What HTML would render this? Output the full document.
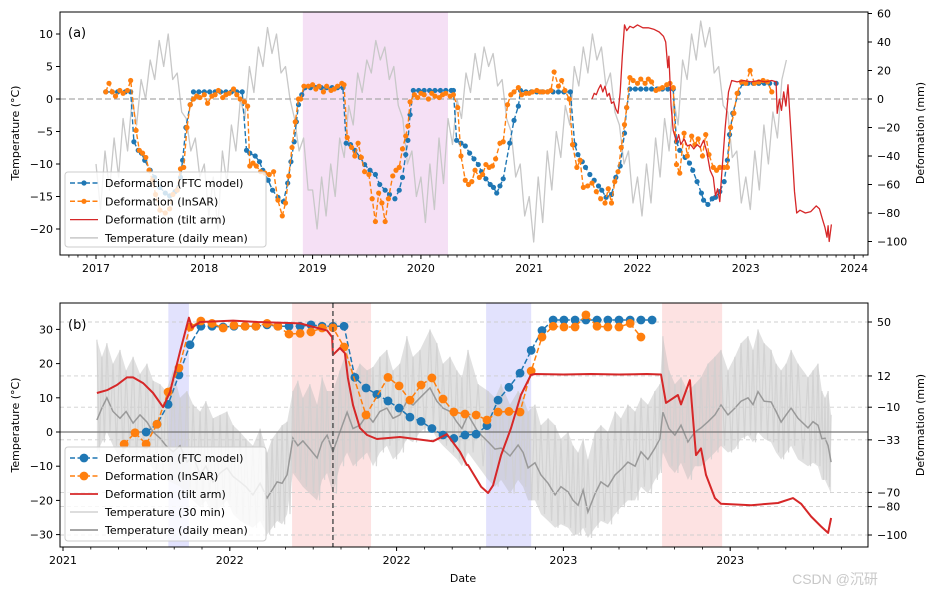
<!DOCTYPE html>
<html><head><meta charset="utf-8">
<style>
html,body{margin:0;padding:0;background:#fff;}
svg{display:block;font-family:"DejaVu Sans","Liberation Sans",sans-serif;}
</style></head>
<body>
<svg id="fig" width="936" height="594" viewBox="0 0 936 594" xmlns="http://www.w3.org/2000/svg">
<defs>
<clipPath id="clipA"><rect x="60" y="12" width="808" height="243"/></clipPath>
<clipPath id="clipB"><rect x="60" y="303" width="808" height="244"/></clipPath>
</defs>
<g id="panelA"></g>
<g id="panelB"></g>
<text x="463" y="582" font-size="11" text-anchor="middle">Date</text>
<text x="835" y="584" font-size="14" fill="#c8c8c8" text-anchor="middle" font-family="Liberation Sans, Noto Sans CJK SC, sans-serif">CSDN @沉研</text>
</svg>
<script>
// ---------- Panel (a) data ----------
const aTempStart = 2017.0; // semi-monthly daily-mean temperature samples
const aTempVals = [-10,-17,-8,-14,-6,-12,-3,-8,0,-4,3,0,6,3,9,5,10,3,4,-2,-3,-8,-6,-12,
 -10,-18,-12,-20,-8,-13,-4,-8,0,-3,5,1,8,5,11,7,10,4,5,0,-3,-8,-6,-14,
 -14,-20,-12,-18,-10,-15,-6,-9,-1,-4,4,1,6,4,9,6,8,3,5,-1,-3,-10,-8,-15,
 -12,-19,-10,-17,-6,-13,-3,-7,0,-3,4,1,7,3,8,5,7,2,3,-3,-5,-12,-10,-18,
 -15,-22,-12,-19,-8,-14,-5,-9,-1,-4,5,2,8,4,10,6,8,2,4,-2,-4,-10,-8,-16,
 -12,-18,-10,-16,-6,-12,-3,-8,0,-4,6,3,10,6,12,8,11,4,5,-1,-2,-9,-8,-16,
 -12,-17,-8,-14,-4,-10,-2,-6,3,6];
const ftcA_t = [2017.09,2017.15,2017.20,2017.27,2017.32,2017.35,2017.39,2017.42,2017.45,2017.50,2017.54,2017.59,2017.64,2017.68,2017.73,2017.78,2017.80,2017.83,2017.87,2017.90,
 2017.95,2018.00,2018.05,2018.10,2018.15,2018.20,2018.25,2018.30,2018.35,
 2018.39,2018.42,2018.47,2018.51,2018.54,2018.59,2018.63,2018.68,2018.73,2018.77,2018.80,2018.83,2018.85,2018.87,2018.90,2018.93,
 2018.98,2019.03,2019.08,2019.13,2019.18,2019.23,2019.28,
 2019.31,2019.35,2019.39,2019.44,2019.48,2019.53,2019.58,2019.62,2019.67,2019.71,2019.76,2019.80,2019.83,2019.86,2019.88,2019.90,2019.93,
 2019.98,2020.03,2020.08,2020.13,2020.18,2020.23,2020.28,2020.30,
 2020.33,2020.37,2020.41,2020.45,2020.49,2020.53,2020.56,2020.60,2020.64,2020.67,2020.70,2020.73,2020.76,2020.82,2020.86,2020.90,2020.92,
 2020.97,2021.02,2021.07,2021.12,2021.17,2021.22,2021.27,2021.32,2021.38,
 2021.42,2021.45,2021.49,2021.52,2021.56,2021.60,2021.64,2021.67,2021.71,2021.76,2021.80,2021.84,2021.88,2021.90,2021.93,
 2021.98,2022.03,2022.08,2022.13,2022.18,2022.23,2022.28,2022.33,
 2022.36,2022.39,2022.44,2022.48,2022.51,2022.55,2022.59,2022.61,2022.65,2022.69,2022.72,2022.76,2022.80,2022.83,2022.85,2022.88,2022.93,
 2022.97,2023.02,2023.07,2023.12,2023.17,2023.22,2023.28];
const ftcA_v = [5,5,5,5,5,-30,-36,-38,-43,-50,-55,-62,-66,-68,-65,-55,-43,-20,-4,5,
 5,5,5,5,5,5,5,5,5,
 -36,-38,-40,-44,-50,-57,-64,-69,-72,-59,-44,-30,-16,-4,3,8,
 8,8,8,8,8,8,8,
 -31,-32,-36,-41,-46,-50,-53,-60,-64,-67,-70,-64,-55,-39,-29,-11,6,
 6,6,6,6,6,6,6,6,
 -29,-31,-33,-38,-42,-46,-51,-56,-60,-62,-66,-61,-56,-31,-15,-5,6,
 5,5,5,5,5,5,5,5,5,
 -32,-39,-44,-48,-53,-57,-61,-64,-69,-67,-55,-47,-24,-6,7,
 7,7,7,7,7,7,7,7,
 -30,-36,-41,-45,-50,-58,-66,-71,-74,-70,-69,-65,-58,-43,-25,-10,4,
 11,11,11,11,11,11,11];
const sarA_t = [2017.09,2017.12,2017.15,2017.18,2017.22,2017.25,2017.29,2017.32,2017.37,2017.40,2017.43,2017.46,2017.49,2017.52,2017.55,2017.59,2017.64,2017.68,2017.71,2017.75,2017.78,2017.81,2017.84,2017.87,2017.90,2017.93,
 2017.96,2018.00,2018.03,2018.07,2018.10,2018.13,2018.17,2018.20,2018.23,2018.27,2018.30,2018.33,2018.37,2018.40,
 2018.42,2018.45,2018.48,2018.52,2018.56,2018.60,2018.64,2018.68,2018.72,2018.75,2018.78,2018.81,2018.84,2018.87,2018.89,2018.92,
 2018.96,2019.00,2019.03,2019.06,2019.10,2019.13,2019.17,2019.20,2019.23,2019.27,2019.29,
 2019.32,2019.36,2019.39,2019.42,2019.45,2019.48,2019.52,2019.55,2019.58,2019.61,2019.64,2019.67,2019.70,2019.74,2019.77,2019.80,2019.83,2019.86,2019.88,2019.90,
 2019.94,2019.97,2020.00,2020.03,2020.07,2020.10,2020.13,2020.17,2020.20,2020.23,2020.27,2020.30,
 2020.34,2020.37,2020.41,2020.44,2020.47,2020.50,2020.54,2020.57,2020.60,2020.63,2020.66,2020.69,2020.73,2020.76,2020.80,2020.83,2020.86,2020.90,2020.93,2020.97,
 2021.00,2021.03,2021.07,2021.10,2021.13,2021.17,2021.20,2021.23,2021.27,2021.30,2021.33,2021.37,
 2021.40,2021.44,2021.47,2021.50,2021.54,2021.58,2021.62,2021.66,2021.70,2021.73,2021.76,2021.79,2021.82,2021.85,2021.88,2021.90,2021.93,
 2021.96,2022.00,2022.03,2022.07,2022.10,2022.13,2022.17,2022.20,2022.23,2022.27,2022.30,2022.33,
 2022.36,2022.39,2022.43,2022.46,2022.50,2022.53,2022.56,2022.60,2022.63,2022.66,2022.70,2022.73,2022.76,2022.80,2022.83,2022.86,2022.89,2022.92,
 2022.96,2023.00,2023.04,2023.08,2023.12,2023.16,2023.20,2023.24];
const sarA_v = [5,11,5,2,6,4,6,13,-22,-36,-38,-41,-50,-57,-67,-78,-80,-77,-67,-64,-49,-48,-20,-4,0,2,
 1,3,-3,2,3,6,1,3,4,7,3,0,-2,-5,
 -47,-45,-47,-51,-52,-53,-51,-71,-82,-73,-54,-34,-16,0,0,9,
 9,10,7,9,5,9,6,7,9,11,10,
 -27,-34,-40,-31,-41,-51,-53,-70,-86,-66,-73,-86,-70,-54,-50,-48,-35,-26,-19,-2,
 3,1,4,3,0,4,2,1,3,4,2,3,
 -6,-40,-57,-60,-58,-50,-55,-53,-46,-48,-47,-42,-31,-30,-4,3,5,8,3,4,
 4,5,6,5,5,5,6,19,9,13,6,0,
 -32,-48,-43,-62,-61,-59,-65,-70,-73,-63,-73,-58,-51,-34,-18,-6,15,
 13,11,14,11,14,12,6,7,8,10,11,8,
 -46,-52,-24,-40,-26,-32,-28,-40,-25,-39,-48,-50,-48,-48,-48,-20,-10,4,
 12,11,20,11,12,13,12,5];
const tiltA_t = [2021.58,2021.60,2021.62,2021.64,2021.66,2021.68,2021.70,2021.72,2021.74,2021.76,2021.78,2021.80,2021.82,2021.84,2021.86,2021.88,2021.90,2021.93,2021.96,2022.00,2022.05,2022.10,2022.15,2022.20,2022.24,2022.26,2022.28,2022.29,2022.31,2022.33,2022.36,2022.38,2022.40,2022.43,2022.46,2022.49,2022.52,2022.55,2022.58,2022.61,2022.64,2022.67,2022.70,2022.72,2022.74,2022.76,2022.78,2022.81,2022.84,2022.87,2022.92,2022.98,2023.05,2023.12,2023.18,2023.24,2023.28,2023.29,2023.31,2023.33,2023.35,2023.37,2023.39,2023.41,2023.43,2023.45,2023.47,2023.50,2023.55,2023.60,2023.65,2023.68,2023.71,2023.73,2023.75,2023.76,2023.77,2023.79];
const tiltA_v = [0,4,3,7,10,5,9,2,4,-3,-2,-7,-10,5,30,52,48,51,50,52,50,50,49,47,44,40,22,30,-5,-22,-30,-25,-32,-28,-33,-32,-35,-32,-34,-29,-37,-50,-55,-68,-63,-72,-50,-20,5,13,12,13,12,13,12,13,12,-10,0,-8,5,-5,10,-15,-40,-65,-80,-78,-80,-79,-75,-77,-85,-90,-97,-89,-100,-88];
const aShade = [2018.91, 2020.25];
const aYears = [2017,2018,2019,2020,2021,2022,2023,2024];
const aTempTicks = [10,5,0,-5,-10,-15,-20];
const aDefTicks = [60,40,20,0,-20,-40,-60,-80,-100];

// ---------- Panel (b) data (time in months since first tick) ----------
const bTempT = [1.22,1.40,1.58,1.80,2.05,2.27,2.52,2.77,3.02,3.24,3.49,3.71,3.96,4.21,4.46,4.68,4.93,5.14,5.40,5.65,5.90,6.12,6.37,6.58,6.83,7.09,7.34,7.52,7.70,7.88,8.06,8.27,8.45,8.63,8.88,9.14,9.32,9.50,9.71,9.96,10.22,10.43,10.68,10.94,11.15,11.40,11.65,11.87,12.12,12.37,12.59,12.84,13.20,13.45,13.67,13.92,14.17,14.35,14.57,14.93,15.29,15.54,15.76,16.08,16.37,16.55,16.73,16.98,17.19,17.45,17.70,17.91,18.17,18.35,18.53,18.71,18.88,19.14,19.35,19.60,19.86,20.07,20.32,20.58,20.79,21.04,21.29,21.47,21.58,21.80,22.01,22.23,22.48,22.73,22.95,23.20,23.45,23.67,23.92,24.17,24.39,24.64,24.82,25.00,25.22,25.47,25.65,25.83,26.01,26.19,26.44,26.80,26.98,27.16,27.30,27.41,27.52,27.63];
const bTempDaily = [3.5,7,10,6,4,6,2.6,5,2.9,0,-1.8,-4,-5.8,-4,-8.8,-7,-12.5,-10,-14.6,-12,-10.5,-13,-14.6,-16,-18.4,-15,-19.3,-17,-14.6,-15,-12.5,-1.8,-4,-2.6,-5,-7.6,-3,-0.9,-5.8,0,5.8,1,2,5,2.9,6,7,4,5,9,7.9,10,12.9,9,7,6,2.9,1,5,0,-2.9,-5,-4.7,-7,-3.8,-6,-10.5,-9,-12.5,-15,-18.4,-16,-17.5,-20,-21.4,-17,-23.4,-18,-14.6,-16,-12.5,-11,-8.8,-10,-5.8,-8,-4.7,-2,5.8,1,-0.9,2,-2.9,0,1.2,3,5,7.9,5,7,9,10,8,11.8,9,8.8,6,2.9,5,7,4,1.2,3,2,-2,-1.8,-4,-8.8];
const bTemp30Hi = [27,22,26,20,24,18,22,17,20,15,14,12,18,10,12,8,6,9,4,5,6,2,0,-2,-4,1,-6,-2,0,2,3,12,15,10,14,8,16,12,12,18,24,16,20,18,19,22,24,18,20,28,22,24,30,26,20,22,18,16,24,14,12,10,14,8,12,10,6,8,2,4,2,-2,0,-4,-6,-2,-8,0,2,0,6,4,8,6,10,8,12,14,28,18,14,16,12,14,16,20,22,24,18,22,26,28,24,30,26,24,20,18,20,24,20,16,18,20,12,10,12,5];
const bTemp30Lo = [-6,-3,0,-4,-8,-5,-9,-6,-8,-11,-12,-14,-15,-16,-18,-20,-22,-20,-25,-22,-20,-24,-26,-27,-28,-26,-30,-28,-26,-27,-24,-12,-14,-16,-18,-20,-14,-12,-18,-10,-6,-10,-8,-6,-10,-6,-4,-8,-6,-2,-3,0,2,-2,-4,-6,-8,-10,-6,-10,-14,-16,-14,-18,-14,-16,-20,-20,-24,-26,-28,-27,-28,-30,-30,-28,-31,-28,-26,-27,-24,-22,-20,-20,-16,-18,-14,-12,-6,-10,-12,-9,-14,-10,-10,-8,-6,-4,-6,-5,-2,-1,-3,0,-2,-3,-6,-8,-6,-4,-8,-10,-9,-10,-14,-14,-16,-18];
const ftcB_t = [2.99,3.38,3.78,4.17,4.57,4.96,5.36,5.76,6.15,6.55,6.94,7.34,7.73,8.13,8.53,8.92,9.32,9.71,10.11,10.50,10.90,11.29,11.69,12.09,12.48,12.88,13.27,13.67,14.06,14.46,14.86,15.25,15.65,16.04,16.44,16.84,17.23,17.63,18.02,18.42,18.81,19.21,19.60,20.00,20.40,20.79,21.19];
const ftcB_v = [-27.5,-22,-8,12.7,34,47,47,46.5,47,47,47,48,47,47,47,48,47,47,47,11,3.5,-1,-5.6,-10.6,-17,-20,-25,-29.6,-32,-29.6,-29,-23,-5,4,14,30,44,51.4,51.4,51.4,51.4,51.4,51.4,51.4,51.4,51.4,51.4];
const sarB_t = [2.20,2.59,2.99,3.38,3.78,4.17,4.57,4.96,5.36,5.76,6.15,6.55,6.94,7.34,7.73,8.13,8.53,8.92,9.32,9.71,10.11,10.90,11.69,12.09,12.48,12.88,13.27,13.67,14.06,14.46,14.86,15.25,15.65,16.04,16.44,16.84,17.23,17.63,18.02,18.42,18.81,19.21,19.60,20.00,20.40,20.79];
const sarB_v = [-36,-28,-36,-22,0.7,17.6,46.5,50.7,49,45.8,47.6,47,47,49,47,41.5,42,43,45.8,46,32.4,-15.5,11,5,-5,5.6,10.6,-4.2,-13.4,-14.8,-15.5,-19,-13.4,-13,-13.4,15.5,39.4,47,46.5,46.5,55,47,46.5,46.5,49,39.4];
const tiltB_t = [1.22,1.58,1.94,2.30,2.52,2.88,3.24,3.60,3.85,4.21,4.53,4.64,4.93,6.12,7.00,8.53,9.50,9.68,9.71,9.96,10.14,10.25,10.43,10.68,10.94,11.29,12.12,13.31,13.81,14.28,14.53,14.57,15.04,15.29,15.47,15.76,16.12,16.47,16.83,16.98,18.0,19.0,20.0,21.0,21.51,21.69,22.12,22.23,22.55,22.77,22.95,23.13,23.45,23.67,24.75,25.72,26.26,26.55,26.91,27.27,27.52,27.63];
const tiltB_v = [0,2,5.6,11,11,7,0,-10,0.7,29,53,46,50,51,50,49,44,39.4,26.8,31.7,28,10.6,-8.5,-24.6,-29.6,-32.4,-31,-34,-29,-41.5,-50.7,-50.7,-66,-70.4,-65,-43.7,-24.6,-1.4,12.7,13.4,13,13.4,13,13.4,13,-7,-1.4,-8,9,-43.7,-39,-57.7,-74,-78,-79,-77.5,-74,-78,-87,-94,-98.5,-88];
const bBlueShades = [[3.79,4.53],[15.22,16.84]];
const bRedShades = [[8.24,11.08],[21.55,23.71]];
const bEventMonth = 9.71;
const bTickMonths = [0,6,12,18,24];
const bTickLabels = ["2021","2022","2022","2023","2023"];
const bTempTicks = [30,20,10,0,-10,-20,-30];
const bDefTicks = [50,12,-10,-33,-70,-80,-100];

// ---------- helpers ----------
const NS = "http://www.w3.org/2000/svg";
function mk(parent, tag, attrs){ const e=document.createElementNS(NS,tag); for(const k in attrs) e.setAttribute(k,attrs[k]); parent.appendChild(e); return e; }
function txt(parent, x, y, s, attrs){ const e=mk(parent,'text',Object.assign({x:x,y:y,'font-size':11,fill:'#000'},attrs||{})); e.textContent=s; return e; }
function fmt(v){ return v<0 ? '\u2212'+Math.abs(v) : String(v); }
function ptsStr(xs, ys){ return xs.map((x,i)=>x.toFixed(1)+','+ys[i].toFixed(1)).join(' '); }

// ---------- Panel (a) ----------
const gA = document.getElementById('panelA');
const xA = t => 96 + (t-2017)*108.3;
const yAT = T => 99 - 6.5*T;
const yAD = d => 99 - 1.425*d;
{
  const clip = mk(gA,'g',{'clip-path':'url(#clipA)'});
   
  const sh = mk(clip,'rect',{x:xA(aShade[0]),y:12,width:xA(aShade[1])-xA(aShade[0]),height:243,fill:'#f5e0f5'});
   
  const tl = mk(clip,'polyline',{points:ptsStr(aTempVals.map((v,i)=>xA(aTempStart+i/24)), aTempVals.map(yAT)),fill:'none',stroke:'#c8c8c8','stroke-width':1.3,'stroke-linejoin':'round'});
   
  const zl = mk(clip,'line',{x1:60,x2:868,y1:yAT(0),y2:yAT(0),stroke:'#aaa','stroke-width':1.2,'stroke-dasharray':'6,3'});
   
  function series(ts, vs, color, name){
    const g = mk(clip,'g',{});
     
    mk(g,'polyline',{points:ptsStr(ts.map(xA),vs.map(yAD)),fill:'none',stroke:color,'stroke-width':1.4,'stroke-dasharray':'5,2.5'});
    ts.forEach((t,i)=>{ const c=mk(g,'circle',{cx:xA(t),cy:yAD(vs[i]),r:2.6,fill:color});
        });
  }
  series(ftcA_t, ftcA_v, '#1f77b4', 'ftc-model-series');
  series(sarA_t, sarA_v, '#ff7f0e', 'insar-series');
  const rl = mk(clip,'polyline',{points:ptsStr(tiltA_t.map(xA),tiltA_v.map(yAD)),fill:'none',stroke:'#d62728','stroke-width':1.3,'stroke-linejoin':'round'});
   
  const frame = mk(gA,'rect',{x:60,y:12,width:808,height:243,fill:'none',stroke:'#000','stroke-width':1});
   
  for(let t=2016.75; t<=2024.1; t+=1/12){ const x=xA(t); if(x<60||x>868) continue;
    mk(gA,'line',{x1:x,x2:x,y1:255,y2:257.5,stroke:'#000','stroke-width':0.8}); }
  aYears.forEach(y=>{ const x=xA(y); mk(gA,'line',{x1:x,x2:x,y1:255,y2:259,stroke:'#000'});
    const l=txt(gA,x,272,String(y),{'text-anchor':'middle'});   });
  aTempTicks.forEach(v=>{ const y=yAT(v); mk(gA,'line',{x1:56,x2:60,y1:y,y2:y,stroke:'#000'});
    const l=txt(gA,53,y+4,fmt(v),{'text-anchor':'end'});   });
  aDefTicks.forEach(v=>{ const y=yAD(v); mk(gA,'line',{x1:868,x2:872,y1:y,y2:y,stroke:'#000'});
    const l=txt(gA,877,y+4,fmt(v));   });
  const yl=txt(gA,0,0,'Temperature (°C)',{transform:'translate(19,133) rotate(-90)','text-anchor':'middle'});
   
  const y2=txt(gA,0,0,'Deformation (mm)',{transform:'translate(924,133) rotate(-90)','text-anchor':'middle'});
   
  const pl=txt(gA,68,37,'(a)',{'font-size':13});  
}

// ---------- Panel (b) ----------
const gB = document.getElementById('panelB');
const xB = m => 63 + m*27.8;
const yBT = T => 432 - 3.42*T;
const yBD = d => 322 + (50-d)*1.42;
{
  const clip = mk(gB,'g',{'clip-path':'url(#clipB)'});
   
  bBlueShades.forEach(s=>{ const r=mk(clip,'rect',{x:xB(s[0]),y:303,width:xB(s[1])-xB(s[0]),height:244,fill:'#e2e2fd'});
      });
  bRedShades.forEach(s=>{ const r=mk(clip,'rect',{x:xB(s[0]),y:303,width:xB(s[1])-xB(s[0]),height:244,fill:'#fde2e2'});
      });
  const poly = bTempT.map((t,i)=>xB(t).toFixed(1)+','+yBT(bTemp30Hi[i]).toFixed(1)).concat(bTempT.slice().reverse().map((t,j)=>{const i=bTempT.length-1-j; return xB(t).toFixed(1)+','+yBT(bTemp30Lo[i]).toFixed(1);})).join(' ');
  const band = mk(clip,'polygon',{points:poly,fill:'#bdbdbd','fill-opacity':0.45});
   
  const zz=[]; bTempT.forEach((t,i)=>{ zz.push(xB(t).toFixed(1)+','+yBT(bTemp30Hi[i]).toFixed(1)); if(i<bTempT.length-1) zz.push(((xB(t)+xB(bTempT[i+1]))/2).toFixed(1)+','+yBT(bTemp30Lo[i]).toFixed(1)); });
  const zl30 = mk(clip,'polyline',{points:zz.join(' '),fill:'none',stroke:'#cfcfcf','stroke-width':1.2,'stroke-opacity':0.8});
   
  const dl = mk(clip,'polyline',{points:ptsStr(bTempT.map(xB),bTempDaily.map(yBT)),fill:'none',stroke:'#999','stroke-width':1.5});
   
  bDefTicks.forEach(v=>{ const g=mk(clip,'line',{x1:60,x2:868,y1:yBD(v),y2:yBD(v),stroke:'#cfcfcf','stroke-width':0.9,'stroke-dasharray':'4,3'});
      });
  const zl = mk(clip,'line',{x1:60,x2:868,y1:yBT(0),y2:yBT(0),stroke:'#777','stroke-width':1.2});
   
  function series(ts, vs, color, name){
    const g = mk(clip,'g',{});
     
    mk(g,'polyline',{points:ptsStr(ts.map(xB),vs.map(yBD)),fill:'none',stroke:color,'stroke-width':1.5,'stroke-dasharray':'5.5,2.5'});
    ts.forEach((t,i)=>{ const c=mk(g,'circle',{cx:xB(t),cy:yBD(vs[i]),r:4.4,fill:color});
        });
  }
  series(ftcB_t, ftcB_v, '#1f77b4', 'ftc-model-series');
  series(sarB_t, sarB_v, '#ff7f0e', 'insar-series');
  const rl = mk(clip,'polyline',{points:ptsStr(tiltB_t.map(xB),tiltB_v.map(yBD)),fill:'none',stroke:'#d62728','stroke-width':2,'stroke-linejoin':'round'});
   
  const ev = mk(clip,'line',{x1:xB(bEventMonth),x2:xB(bEventMonth),y1:303,y2:547,stroke:'#555','stroke-width':1.5,'stroke-dasharray':'5,3'});
   
  const frame = mk(gB,'rect',{x:60,y:303,width:808,height:244,fill:'none',stroke:'#000','stroke-width':1});
   
  for(let m=0; m<=29; m++){ const x=xB(m); if(x>868) continue; mk(gB,'line',{x1:x,x2:x,y1:547,y2:549.5,stroke:'#000','stroke-width':0.8}); }
  bTickMonths.forEach((m,i)=>{ const x=xB(m); mk(gB,'line',{x1:x,x2:x,y1:547,y2:551,stroke:'#000'});
    const l=txt(gB,x,564,bTickLabels[i],{'text-anchor':'middle'});   });
  bTempTicks.forEach(v=>{ const y=yBT(v); mk(gB,'line',{x1:56,x2:60,y1:y,y2:y,stroke:'#000'});
    const l=txt(gB,53,y+4,fmt(v),{'text-anchor':'end'});   });
  bDefTicks.forEach(v=>{ const y=yBD(v); mk(gB,'line',{x1:868,x2:872,y1:y,y2:y,stroke:'#000'});
    const l=txt(gB,877,y+4,fmt(v));   });
  const yl=txt(gB,0,0,'Temperature (°C)',{transform:'translate(19,425) rotate(-90)','text-anchor':'middle'});
   
  const y2=txt(gB,0,0,'Deformation (mm)',{transform:'translate(924,425) rotate(-90)','text-anchor':'middle'});
   
  const pl=txt(gB,68,329,'(b)',{'font-size':13});  
}

// ---------- Legends ----------
function legend(parent, x, y, w, h, rows, big){
  const g = mk(parent,'g',{});
   
  mk(g,'rect',{x:x,y:y,width:w,height:h,rx:3,fill:'#fff','fill-opacity':0.8,stroke:'#ccc'});
  rows.forEach((r,i)=>{
    const cy = y + 11 + i*(big?18:18.3);
    const e = mk(g,'g',{});
     
    const attrs={x1:x+5,x2:x+33,y1:cy,y2:cy,stroke:r.c,'stroke-width':r.w||1.5};
    if(r.dash) attrs['stroke-dasharray']='5,2.5';
    mk(e,'line',attrs);
    if(r.m) mk(e,'circle',{cx:x+19,cy:cy,r:big?4.4:2.6,fill:r.c});
    txt(e,x+40,cy+4,r.t,{'font-size':11});
  });
}
legend(gA,65,172,201,75,[
 {c:'#1f77b4',dash:1,m:1,t:'Deformation (FTC model)'},
 {c:'#ff7f0e',dash:1,m:1,t:'Deformation (InSAR)'},
 {c:'#d62728',w:1.2,t:'Deformation (tilt arm)'},
 {c:'#c8c8c8',t:'Temperature (daily mean)'}],false);
legend(gB,65,447,201,94,[
 {c:'#1f77b4',dash:1,m:1,t:'Deformation (FTC model)'},
 {c:'#ff7f0e',dash:1,m:1,t:'Deformation (InSAR)'},
 {c:'#d62728',w:1.8,t:'Deformation (tilt arm)'},
 {c:'#d8d8d8',w:1.8,t:'Temperature (30 min)'},
 {c:'#999',w:1.8,t:'Temperature (daily mean)'}],true);
</script>
</body></html>
